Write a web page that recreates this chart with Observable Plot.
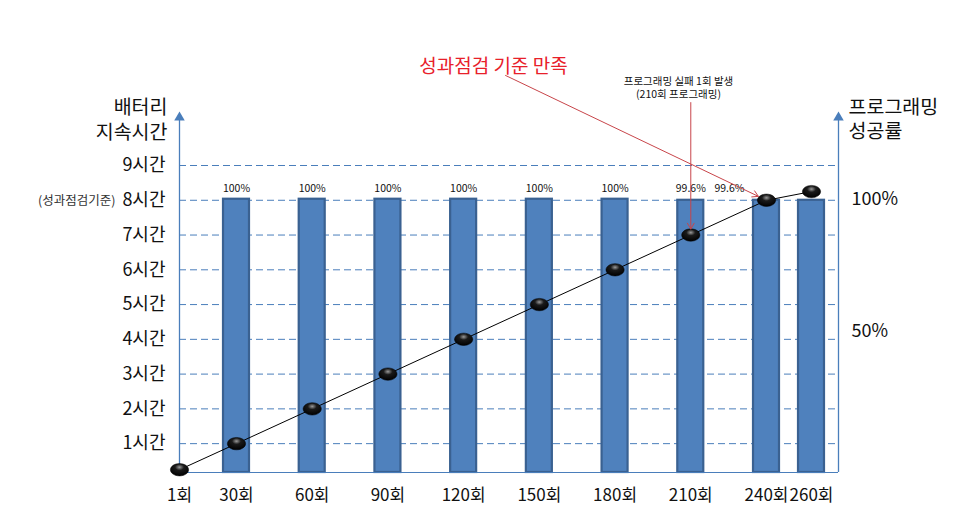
<!DOCTYPE html>
<html>
<head>
<meta charset="utf-8">
<script src="https://cdn.jsdelivr.net/npm/d3@7"></script>
<script src="https://cdn.jsdelivr.net/npm/@observablehq/plot@0.6"></script>
<style>
  html, body { margin: 0; padding: 0; background: #fff; }
  #chart svg { font-family: "Noto Sans CJK KR", "Noto Sans", sans-serif; }
</style>
</head>
<body>
<div id="chart"></div>
<script>
// ---- data ----
const counts = [1, 30, 60, 90, 120, 150, 180, 210, 240, 260];
const countLabels = ["1회", "30회", "60회", "90회", "120회", "150회", "180회", "210회", "240회", "260회"];
const batteryHours = [0.25, 1, 2, 3, 4, 5, 6, 7, 8, 8.25];

const barCounts = [30, 60, 90, 120, 150, 180, 210, 240, 260];
const successRate = [100, 100, 100, 100, 100, 100, 99.6, 99.6, 99.6];
const barLabels = ["100%", "100%", "100%", "100%", "100%", "100%", "99.6%", "99.6%", ""];

const hourTicks = [1, 2, 3, 4, 5, 6, 7, 8, 9];
const hourTickLabels = ["1시간", "2시간", "3시간", "4시간", "5시간", "6시간", "7시간", "8시간", "9시간"];
const rateTicks = [50, 100];
const rateTickLabels = ["50%", "100%"];

const leftTitle = "배터리\n지속시간";
const rightTitle = "프로그래밍\n성공률";
const criterionNote = "(성과점검기준)";
const criterionHour = 8;
const noteMain = "성과점검 기준 만족";
const noteMainTarget = 240;
const noteFail = "프로그래밍 실패 1회 발생\n(210회 프로그래밍)";
const noteFailTarget = 210;

// ---- derived tables ----
const points = counts.map((n, i) => ({n, h: batteryHours[i], label: countLabels[i]}));
const bars = barCounts.map((n, i) => ({n, r: successRate[i], label: barLabels[i]}));

// ---- scales / styles ----
const hourMin = 0.17, hourTop = 10.38, xRight = 272;
const rateToHours = d3.scaleLinear([50, 100], [4.23, 8.03]);
const axisColor = "#4a7ebb";
const gridColor = "#4a7ebb";

const ellipse = {
  draw(ctx, size) {
    const r = Math.sqrt(size / Math.PI), rx = r * 1.4, ry = r * 0.95, k = 0.5523;
    ctx.moveTo(rx, 0);
    ctx.bezierCurveTo(rx, k * ry, k * rx, ry, 0, ry);
    ctx.bezierCurveTo(-k * rx, ry, -rx, k * ry, -rx, 0);
    ctx.bezierCurveTo(-rx, -k * ry, -k * rx, -ry, 0, -ry);
    ctx.bezierCurveTo(k * rx, -ry, rx, -k * ry, rx, 0);
    ctx.closePath();
  }
};

const font = "Noto Sans CJK KR";
const target240 = points.find(d => d.n === noteMainTarget);
const target210 = points.find(d => d.n === noteFailTarget);

const chart = Plot.plot({
  width: 969,
  height: 529,
  marginLeft: 179,
  marginRight: 131,
  marginTop: 165,
  marginBottom: 57,
  style: {fontFamily: font, background: "#fff", overflow: "visible"},
  x: {type: "linear", domain: [1, 30, 240, 260, xRight], range: [179, 236, 766, 811, 838], axis: null},
  y: {domain: [hourMin, 9], axis: null},
  marks: [
    // grid
    Plot.ruleY(hourTicks, {y: d => d, stroke: gridColor, strokeDasharray: "7,4", strokeWidth: 1}),
    // bars (right axis: success rate)
    Plot.rect(bars, {
      x1: "n", x2: "n", y1: hourMin, y2: d => rateToHours(d.r),
      insetLeft: -13, insetRight: -13,
      fill: "#4f81bd", stroke: "#3a6191", strokeWidth: 2.2
    }),
    Plot.text(bars.filter(d => d.n !== noteMainTarget), {
      x: "n", y: rateToHours(100), dy: -11, text: "label", fontSize: 10.5, fill: "#111"
    }),
    Plot.text(bars.filter(d => d.n === noteMainTarget), {
      x: "n", y: rateToHours(100), dy: -11, dx: -37, text: "label", fontSize: 10.5, fill: "#111"
    }),
    // axes lines
    Plot.ruleY([hourMin], {stroke: axisColor, strokeWidth: 1}),
    Plot.ruleX([1], {y1: hourMin, y2: hourTop, stroke: axisColor, strokeWidth: 1.3}),
    Plot.ruleX([xRight], {y1: hourMin, y2: hourTop, stroke: axisColor, strokeWidth: 1.3}),
    Plot.dot([1, xRight], {x: d => d, y: hourTop, symbol: "triangle", r: 3.9, fill: axisColor}),
    // battery line
    Plot.line(points, {x: "n", y: "h", stroke: "#000", strokeWidth: 1}),
    Plot.dot(points, {x: "n", y: "h", r: 6.5, symbol: ellipse, fill: "url(#gloss)", stroke: "#000", strokeWidth: 0.5}),
    // left ticks
    Plot.text(hourTicks, {y: d => d, frameAnchor: "left", dx: -14, textAnchor: "end", text: hourTickLabels, fontSize: 18, fill: "#111"}),
    Plot.text([criterionHour], {y: d => d, frameAnchor: "left", dx: -64, dy: 1, textAnchor: "end", text: [criterionNote], fontSize: 12.5, fill: "#333"}),
    // right ticks
    Plot.text(rateTicks, {y: d => rateToHours(d), frameAnchor: "right", dx: 13, textAnchor: "start", text: rateTickLabels, fontSize: 18, fill: "#111"}),
    // x labels
    Plot.text(points, {x: "n", y: hourMin, dy: 23, text: "label", fontSize: 17, fill: "#111"}),
    // axis titles
    Plot.text([leftTitle], {frameAnchor: "top-left", dx: -12, dy: -47, textAnchor: "end", lineAnchor: "middle", lineHeight: 1.27, fontSize: 19.5, fill: "#111"}),
    Plot.text([rightTitle], {frameAnchor: "top-right", dx: 10, dy: -47, textAnchor: "start", lineAnchor: "middle", lineHeight: 1.2, fontSize: 19.5, fill: "#111"}),
    // annotations
    Plot.text([noteMain], {frameAnchor: "top-left", dx: 314, dy: -106, textAnchor: "middle", fontSize: 19, fill: "#e8202a"}),
    Plot.arrow([target240], {x1: 136.6, y1: 11.59, x2: "n", y2: "h", insetEnd: 9, headLength: 10, stroke: "#c8454a", strokeWidth: 1}),
    Plot.text([noteFail], {frameAnchor: "top-left", dx: 499, dy: -78.5, textAnchor: "middle", lineAnchor: "middle", lineHeight: 1.25, fontSize: 10.5, fill: "#111"}),
    Plot.arrow([target210], {x1: "n", y1: 10.81, x2: "n", y2: "h", insetEnd: 6, headLength: 10, stroke: "#c8454a", strokeWidth: 1})
  ]
});

// glossy gradient for the markers
const svg = d3.select(chart);
const defs = svg.insert("defs", ":first-child");
const g = defs.append("radialGradient").attr("id", "gloss").attr("cx", "50%").attr("cy", "30%").attr("r", "70%");
g.append("stop").attr("offset", "0%").attr("stop-color", "#9a9a9a");
g.append("stop").attr("offset", "35%").attr("stop-color", "#1a1a1a");
g.append("stop").attr("offset", "100%").attr("stop-color", "#000");

document.getElementById("chart").appendChild(chart);
</script>
</body>
</html>
